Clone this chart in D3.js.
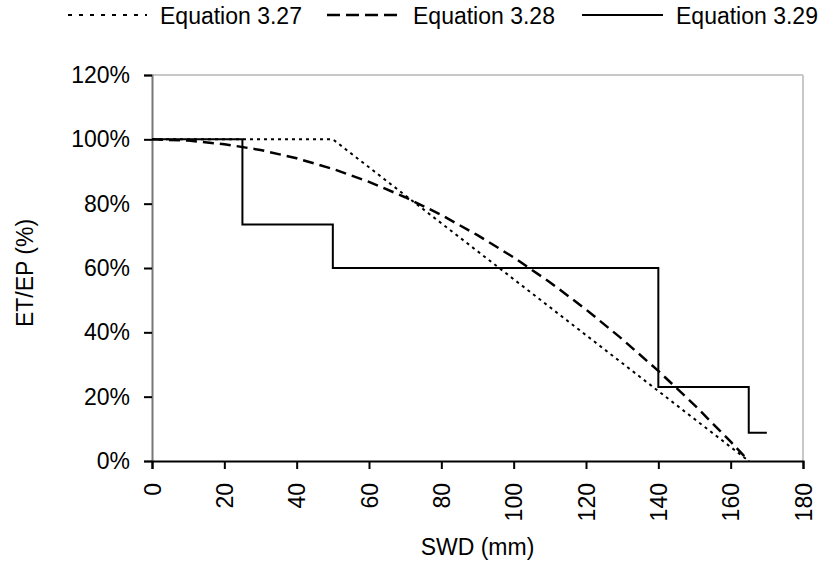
<!DOCTYPE html>
<html>
<head>
<meta charset="utf-8">
<script src="https://cdn.jsdelivr.net/npm/d3@7"></script>
<style>
  body { margin: 0; background: #fff; }
  svg text { font-family: "Liberation Sans", Arial, sans-serif; fill: #000; }
</style>
</head>
<body>
<div id="chart"></div>
<script>
// series
const eq327_swd = [0, 50, 165];
const eq327_val = [100, 100, 0];

const eq328_swd = [0, 10, 20, 30, 40, 50, 60, 70, 80, 90, 100, 110, 120, 130, 140, 150, 160, 165];
const eq328_val = [100, 99.6, 98.5, 96.7, 94.1, 90.8, 86.8, 82, 76.5, 70.2, 63.3, 55.6, 47.1, 37.9, 28, 17.4, 6, 0];

// step function: [swd, value] corners
const eq329_swd = [0, 25, 25, 50, 50, 140, 140, 165, 165, 170];
const eq329_val = [100, 100, 73.5, 73.5, 60, 60, 23, 23, 8.8, 8.8];

const xTicks = [0, 20, 40, 60, 80, 100, 120, 140, 160, 180];
const yTicks = [0, 20, 40, 60, 80, 100, 120];
const legendNames = ["Equation 3.27", "Equation 3.28", "Equation 3.29"];

const W = 822, H = 564;
const margin = {top: 75, right: 19, bottom: 103, left: 152};
const width = W - margin.left - margin.right,
      height = H - margin.top - margin.bottom;

const svg = d3.select("#chart").append("svg")
    .attr("width", W).attr("height", H);
const g = svg.append("g")
    .attr("transform", `translate(${margin.left},${margin.top})`);

const x = d3.scaleLinear().domain([0, 180]).range([0, width]);
const y = d3.scaleLinear().domain([0, 120]).range([height, 0]);

// plot border (top / right light gray)
g.append("line").attr("x1", 0).attr("x2", width).attr("y1", 0).attr("y2", 0)
    .attr("stroke", "#c8c8c8").attr("stroke-width", 2);
g.append("line").attr("x1", width).attr("x2", width).attr("y1", 0).attr("y2", height)
    .attr("stroke", "#c8c8c8").attr("stroke-width", 2);

// y axis
const yAxis = g.append("g")
    .call(d3.axisLeft(y).tickValues(yTicks).tickSize(8).tickPadding(14)
        .tickFormat(d => d + "%"));
yAxis.select(".domain").attr("stroke", "#777").attr("stroke-width", 2);
yAxis.selectAll(".tick line").attr("stroke", "#000").attr("stroke-width", 2);
yAxis.selectAll("text").style("font-size", "23px");

// x axis
const xAxis = g.append("g")
    .attr("transform", `translate(0,${height})`)
    .call(d3.axisBottom(x).tickValues(xTicks).tickSize(8));
xAxis.select(".domain").attr("stroke", "#000").attr("stroke-width", 2);
xAxis.selectAll(".tick line").attr("stroke", "#000").attr("stroke-width", 2);
xAxis.selectAll("text")
    .style("font-size", "23px")
    .attr("transform", "rotate(-90)")
    .attr("text-anchor", "end")
    .attr("x", -22)
    .attr("y", 0)
    .attr("dy", "0.35em");

// axis titles
g.append("text")
    .attr("x", width / 2).attr("y", height + 94)
    .attr("text-anchor", "middle")
    .style("font-size", "23px")
    .text("SWD (mm)");
g.append("text")
    .attr("transform", "rotate(-90)")
    .attr("x", -height / 2 - 5).attr("y", -119)
    .attr("text-anchor", "middle")
    .style("font-size", "23px")
    .text("ET/EP (%)");

const line = d3.line().x(d => x(d[0])).y(d => y(d[1]));
const styles = [
  {dash: "3,4", w: 2, legDash: "4,7"},
  {dash: "11,6", w: 2.5, legDash: "13,6"},
  {dash: null, w: 2, legDash: null}
];
const series = [
  d3.zip(eq327_swd, eq327_val),
  d3.zip(eq328_swd, eq328_val),
  d3.zip(eq329_swd, eq329_val)
];

series.forEach((s, i) => {
  g.append("path")
      .datum(s)
      .attr("d", line)
      .attr("fill", "none")
      .attr("stroke", "#000")
      .attr("stroke-width", styles[i].w)
      .attr("stroke-dasharray", styles[i].dash);
});

// legend
const legendX = [68, 327, 582];
const legendLen = [79, 73, 81];
const leg = svg.append("g");
legendNames.forEach((name, i) => {
  leg.append("line")
      .attr("x1", legendX[i]).attr("x2", legendX[i] + legendLen[i])
      .attr("y1", 15).attr("y2", 15)
      .attr("stroke", "#000")
      .attr("stroke-width", styles[i].w)
      .attr("stroke-dasharray", styles[i].legDash);
  leg.append("text")
      .attr("x", legendX[i] + legendLen[i] + 13)
      .attr("y", 24)
      .style("font-size", "23px")
      .text(name);
});
</script>
</body>
</html>
